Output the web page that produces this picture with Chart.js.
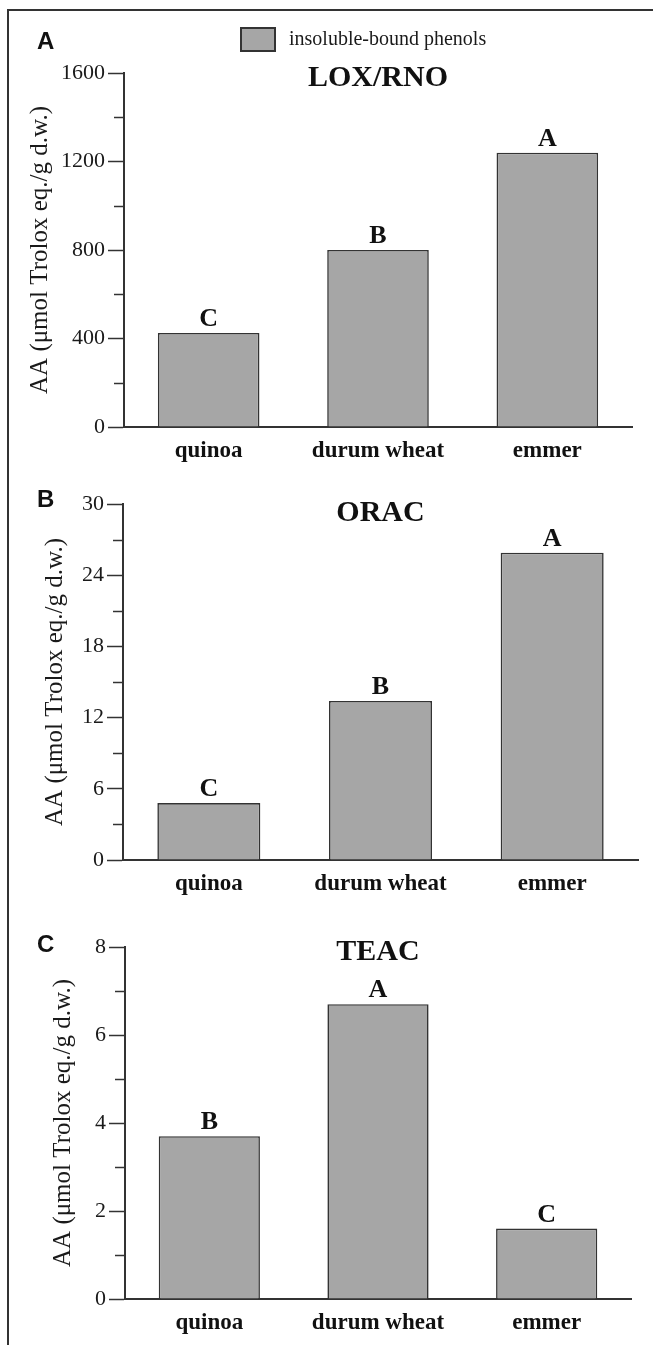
<!DOCTYPE html>
<html><head><meta charset="utf-8">
<script src="https://cdn.jsdelivr.net/npm/chart.js@4.4.1/dist/chart.umd.min.js"></script>
<style>
html,body{margin:0;padding:0;background:#fff;width:653px;height:1345px;overflow:hidden;}
#frame{position:absolute;left:7px;top:9px;width:700px;height:1400px;border-left:2px solid #333;border-top:2px solid #333;}
.wrap{position:absolute;left:0;width:653px;}
canvas{display:block;}
</style></head><body>
<div id="frame"></div>
<div class="wrap" style="top:0px;height:470px"><canvas id="cA" width="653" height="470"></canvas></div>
<div class="wrap" style="top:470px;height:440px"><canvas id="cB" width="653" height="440"></canvas></div>
<div class="wrap" style="top:910px;height:435px"><canvas id="cC" width="653" height="435"></canvas></div>
<script>
// ---- data ----
const categories = ['quinoa', 'durum wheat', 'emmer'];
const seriesLabel = 'insoluble-bound phenols';
const loxValues = [425, 800, 1240];
const oracValues = [4.8, 13.4, 25.9];
const teacValues = [3.7, 6.7, 1.6];
const loxLetters = ['C', 'B', 'A'];
const oracLetters = ['C', 'B', 'A'];
const teacLetters = ['B', 'A', 'C'];
const loxTicks = [0, 400, 800, 1200, 1600];
const oracTicks = [0, 6, 12, 18, 24, 30];
const teacTicks = [0, 2, 4, 6, 8];
const panelTitles = ['LOX/RNO', 'ORAC', 'TEAC'];
const panelLetters = ['A', 'B', 'C'];
const yAxisTitle = 'AA (\u03bcmol Trolox eq./g d.w.)';

// ---- style ----
const SERIF = '"Liberation Serif", "Times New Roman", serif';
const SANS = '"Liberation Sans", Arial, sans-serif';
const INK = '#1a1a1a';
const AXIS = '#333';
const BAR_FILL = '#a6a6a6';
const BAR_EDGE = '#333333';

const deco = {
  id: 'deco',
  afterDraw(chart, args, o) {
    const ctx = chart.ctx, ys = chart.scales.y, ca = chart.chartArea;
    ctx.save();
    // minor ticks
    ctx.strokeStyle = AXIS; ctx.lineWidth = 1.5;
    for (let i = 0; i < o.ticks.length - 1; i++) {
      const m = (o.ticks[i] + o.ticks[i + 1]) / 2;
      const py = Math.round(ys.getPixelForValue(m)) + 0.5;
      ctx.beginPath(); ctx.moveTo(ca.left - o.minorLen, py); ctx.lineTo(ca.left, py); ctx.stroke();
    }
    // letters above bars
    ctx.fillStyle = '#111';
    ctx.font = 'bold 26px ' + SERIF;
    ctx.textAlign = 'center'; ctx.textBaseline = 'alphabetic';
    chart.getDatasetMeta(0).data.forEach((bar, i) => {
      ctx.fillText(o.letters[i], bar.x, bar.y - 7);
    });
    // panel title
    ctx.font = 'bold 30px ' + SERIF;
    ctx.textBaseline = 'middle';
    ctx.fillText(o.title, (ca.left + ca.right) / 2, o.titleY);
    // panel letter
    ctx.font = 'bold 24px ' + SANS;
    ctx.textAlign = 'left';
    ctx.fillText(o.panel, 37, o.panelY);
    // legend
    if (o.legend) {
      const ds = chart.data.datasets[0];
      ctx.fillStyle = ds.backgroundColor;
      ctx.fillRect(241, 28, 34, 23);
      ctx.strokeStyle = AXIS; ctx.lineWidth = 2;
      ctx.strokeRect(241, 28, 34, 23);
      ctx.fillStyle = INK;
      ctx.font = '20px ' + SERIF;
      ctx.textBaseline = 'middle';
      ctx.fillText(ds.label, 289, 40);
    }
    ctx.restore();
  }
};

function makeChart(id, values, ticks, letters, idx, lay) {
  return new Chart(document.getElementById(id), {
    type: 'bar',
    data: {
      labels: categories,
      datasets: [{
        label: seriesLabel,
        data: values,
        backgroundColor: BAR_FILL,
        borderColor: BAR_EDGE,
        borderWidth: 1.6,
        barPercentage: 0.6,
        categoryPercentage: 1.0
      }]
    },
    options: {
      responsive: false,
      animation: false,
      layout: { padding: { left: lay.padL, right: lay.padR, top: lay.top, bottom: lay.padB } },
      plugins: {
        legend: { display: false },
        tooltip: { enabled: false },
        title: { display: false },
        deco: {
          ticks: ticks, letters: letters, minorLen: 10,
          title: panelTitles[idx], titleY: lay.titleY,
          panel: panelLetters[idx], panelY: lay.panelY,
          legend: idx === 0
        }
      },
      scales: {
        x: {
          offset: true,
          grid: { display: false, drawTicks: false },
          border: { display: true, color: AXIS, width: 2 },
          ticks: { color: '#111', padding: 10, font: { family: SERIF, size: 23, weight: 'bold' } },
          afterFit: s => { s.height = 40; }
        },
        y: {
          min: ticks[0], max: ticks[ticks.length - 1],
          afterBuildTicks: s => { s.ticks = ticks.map(v => ({ value: v })); },
          grid: { drawOnChartArea: false, tickLength: 16, tickColor: AXIS, tickWidth: 1.5 },
          border: { display: true, color: AXIS, width: 2 },
          ticks: { color: INK, padding: 3, font: { family: SERIF, size: 22 }, callback: v => String(v) },
          title: { display: true, text: yAxisTitle, color: INK, padding: 0, font: { family: SERIF, size: 25 } },
          afterFit: s => { s.width = lay.chartLeft - lay.padL; }
        }
      }
    },
    plugins: [deco]
  });
}

makeChart('cA', loxValues, loxTicks, loxLetters, 0,
  { padL: 25, padR: 21, top: 73, padB: 3, chartLeft: 124, titleY: 78, panelY: 42 });
makeChart('cB', oracValues, oracTicks, oracLetters, 1,
  { padL: 40, padR: 15, top: 34, padB: 10, chartLeft: 123, titleY: 43, panelY: 30 });
makeChart('cC', teacValues, teacTicks, teacLetters, 2,
  { padL: 48, padR: 22, top: 37, padB: 6, chartLeft: 125, titleY: 42, panelY: 35 });
</script>
</body></html>
